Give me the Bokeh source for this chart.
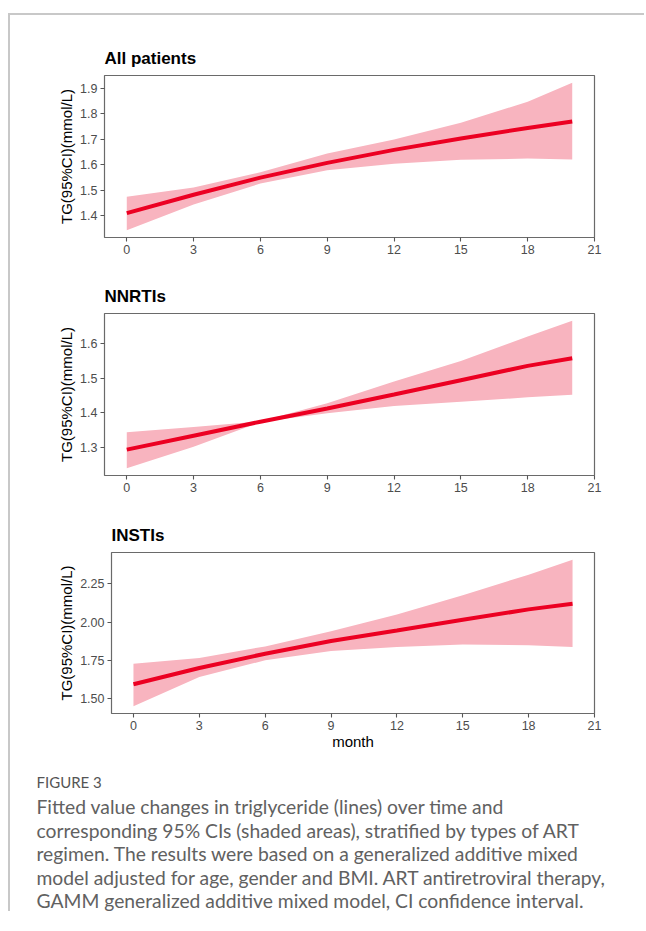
from bokeh.plotting import figure
from bokeh.models import Range1d, FixedTicker, NumeralTickFormatter, Spacer
from bokeh.layouts import column, row
from bokeh.core.properties import value
from bokeh.embed import file_html
from bokeh.resources import INLINE

# ---------------- data ----------------
month = [0, 3, 6, 9, 12, 15, 18, 20]

all_fit = [1.411, 1.483, 1.550, 1.608, 1.659, 1.704, 1.745, 1.770]
all_upper = [1.475, 1.511, 1.571, 1.645, 1.700, 1.765, 1.848, 1.922]
all_lower = [1.344, 1.445, 1.527, 1.579, 1.605, 1.620, 1.625, 1.621]

nnrti_fit = [1.295, 1.335, 1.375, 1.413, 1.453, 1.494, 1.535, 1.557]
nnrti_upper = [1.345, 1.360, 1.376, 1.428, 1.490, 1.549, 1.619, 1.664]
nnrti_lower = [1.242, 1.303, 1.374, 1.399, 1.420, 1.432, 1.445, 1.452]

insti_fit = [1.593, 1.700, 1.793, 1.876, 1.945, 2.015, 2.083, 2.120]
insti_upper = [1.728, 1.765, 1.841, 1.940, 2.050, 2.175, 2.310, 2.407]
insti_lower = [1.450, 1.641, 1.750, 1.810, 1.837, 1.854, 1.848, 1.837]

x_ticks = [0, 3, 6, 9, 12, 15, 18, 21]
all_yticks = [1.4, 1.5, 1.6, 1.7, 1.8, 1.9]
nnrti_yticks = [1.3, 1.4, 1.5, 1.6]
insti_yticks = [1.50, 1.75, 2.00, 2.25]

panel_titles = ["All patients", "NNRTIs", "INSTIs"]
y_label = "TG(95%CI)(mmol/L)"
x_label = "month"

caption_head = "FIGURE 3"
caption_lines = [
    "Fitted value changes in triglyceride (lines) over time and",
    "corresponding 95% CIs (shaded areas), stratified by types of ART",
    "regimen. The results were based on a generalized additive mixed",
    "model adjusted for age, gender and BMI. ART antiretroviral therapy,",
    "GAMM generalized additive mixed model, CI confidence interval.",
]

# ---------------- style ----------------
W = 628
FONT = "Liberation Sans"
LINE_RED = "#ec0022"
BAND_PINK = "#f8b4bf"
FRAME_GREY = "#6a6a6a"
TICK_GREY = "#555555"
LABEL_GREY = "#4d4d4d"


def make_panel(title, fit, lo, hi, yticks, fmt, height, top, bottom, left, fw, xlab=None):
    span = max(hi) - min(lo)
    y0 = min(lo) - 0.05 * span
    y1 = max(hi) + 0.05 * span
    p = figure(width=W, height=height, x_range=Range1d(-1, 21), y_range=Range1d(y0, y1),
               output_backend="svg", toolbar_location=None,
               min_border_left=left, min_border_right=W - left - fw,
               min_border_top=top, min_border_bottom=bottom)
    p.title.text = title
    p.title.text_font = FONT
    p.title.text_font_size = "17px"
    p.title.text_font_style = "bold"
    p.title.text_color = "black"
    p.title.align = "left"
    p.title.offset = 0
    p.title.standoff = 15

    p.varea(x=month, y1=lo, y2=hi, fill_color=BAND_PINK, fill_alpha=1.0)
    p.line(x=month, y=fit, line_color=LINE_RED, line_width=4)

    p.xgrid.visible = False
    p.ygrid.visible = False
    p.outline_line_color = FRAME_GREY
    p.outline_line_width = 1.2
    p.background_fill_color = "white"
    p.border_fill_color = "white"

    for ax in (p.xaxis[0], p.yaxis[0]):
        ax.axis_line_color = None
        ax.major_tick_line_color = TICK_GREY
        ax.major_tick_line_width = 1.1
        ax.major_tick_in = 0
        ax.major_tick_out = 4
        ax.minor_tick_line_color = None
        ax.major_label_text_font = FONT
        ax.major_label_text_font_size = "12.5px"
        ax.major_label_text_color = LABEL_GREY
        ax.major_label_standoff = 3
        ax.axis_label_text_font = FONT
        ax.axis_label_text_font_size = "15px"
        ax.axis_label_text_font_style = "normal"
        ax.axis_label_text_color = "black"

    p.xaxis.axis_label_standoff = 0
    p.yaxis.axis_label_standoff = 2
    p.xaxis.ticker = FixedTicker(ticks=x_ticks)
    p.yaxis.ticker = FixedTicker(ticks=yticks)
    p.yaxis.formatter = NumeralTickFormatter(format=fmt)
    p.yaxis.axis_label = y_label
    if xlab:
        p.xaxis.axis_label = xlab
    return p


p1 = make_panel(panel_titles[0], all_fit, all_lower, all_upper, all_yticks, "0.0",
                height=257, top=60, bottom=35, left=94, fw=490)
p2 = make_panel(panel_titles[1], nnrti_fit, nnrti_lower, nnrti_upper, nnrti_yticks, "0.0",
                height=239, top=41, bottom=36, left=94, fw=490)
p3 = make_panel(panel_titles[2], insti_fit, insti_lower, insti_upper, insti_yticks, "0.00",
                height=250, top=41, bottom=48, left=101, fw=483, xlab=x_label)

# caption panel
CAP_H = 150
cap = figure(width=W, height=CAP_H, x_range=Range1d(0, W), y_range=Range1d(CAP_H, 0),
             output_backend="svg", toolbar_location=None,
             min_border_left=0, min_border_right=0, min_border_top=0, min_border_bottom=0)
cap.axis.visible = False
cap.grid.visible = False
cap.outline_line_color = None
cap.background_fill_color = "white"
cap.border_fill_color = "white"
cap.text(x=[26], y=[20], text=[caption_head], text_font=value("Lato"), text_font_size="15px",
         text_color="#555555", text_baseline="middle", text_align="left")
cap_y = [45 + 23.5 * i for i in range(len(caption_lines))]
cap.text(x=[26] * len(caption_lines), y=cap_y, text=caption_lines, text_font=value("Lato"),
         text_font_size="19.3px", text_color="#616161", text_baseline="middle", text_align="left")

body = column(row(p1), row(p2), row(p3), row(cap), spacing=0)
BODY_H = 257 + 239 + 250 + CAP_H
left_line = Spacer(width=2, height=BODY_H, styles={"background-color": "#c8c8c8"})
top_line = Spacer(width=636, height=2, styles={"background-color": "#c8c8c8"})
layout = column(
    Spacer(width=644, height=13),
    row(Spacer(width=8, height=2), top_line, spacing=0),
    row(Spacer(width=8, height=BODY_H), left_line, body, spacing=0),
    spacing=0,
)

open("out.html", "w").write(file_html(layout, INLINE))
